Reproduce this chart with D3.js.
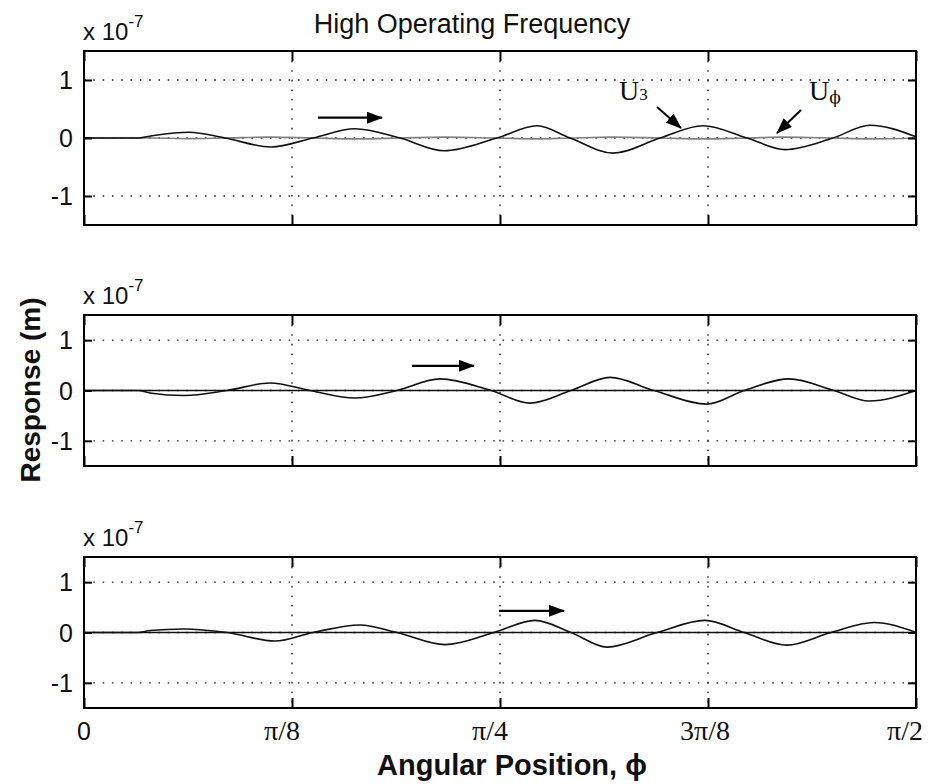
<!DOCTYPE html>
<html>
<head>
<meta charset="utf-8">
<script src="https://cdn.jsdelivr.net/npm/d3@7"></script>
<style>
  html, body { margin: 0; padding: 0; background: #fff; }
  svg { display: block; }
</style>
</head>
<body>
<svg id="chart" width="928" height="784"></svg>
<script>
// ---------------- data ----------------
const xTickVals = [0, Math.PI / 8, Math.PI / 4, 3 * Math.PI / 8, Math.PI / 2];
const xTickLabels = ["0", "π/8", "π/4", "3π/8", "π/2"];
const yTickVals = [-1, 0, 1];
const yTickLabels = ["-1", "0", "1"];

// panel 1 (angular position in rad, response in 1e-7 m)
const phi1 = [0, 0.1001, 0.1284, 0.1982, 0.2662, 0.3530, 0.4323, 0.5116, 0.5966, 0.6797, 0.7797,
  0.8553, 0.9176, 0.9987, 1.0875, 1.1686, 1.2517, 1.3235, 1.4141, 1.4839, 1.5708];
const u3Panel1 = [0, 0, 0.04, 0.10, 0, -0.155, 0, 0.16, 0, -0.22, 0,
  0.21, 0, -0.26, 0, 0.21, 0, -0.20, 0, 0.22, 0.02];
const uphiPanel1 = [0, 0, 0, -0.01, 0, 0.015, 0, -0.015, 0, 0.015, 0,
  -0.015, 0, 0.015, 0, -0.015, 0, 0.015, 0, -0.015, 0];

// panel 2
const phi2 = [0, 0.1019, 0.1246, 0.1888, 0.2700, 0.3512, 0.4267, 0.5116, 0.5909, 0.6721, 0.7684,
  0.8420, 0.9194, 0.9931, 1.0761, 1.1762, 1.2461, 1.3310, 1.4160, 1.4821, 1.5708];
const u3Panel2 = [0, 0, -0.05, -0.10, 0, 0.15, 0, -0.15, 0, 0.23, 0,
  -0.25, 0, 0.26, 0, -0.27, 0, 0.23, 0, -0.21, 0];

// panel 3
const phi3 = [0, 0.1019, 0.1246, 0.1888, 0.2700, 0.3606, 0.4323, 0.5211, 0.5909, 0.6816, 0.7741,
  0.8515, 0.9194, 0.9874, 1.0818, 1.1724, 1.2461, 1.3272, 1.4103, 1.4915, 1.5708];
const u3Panel3 = [0, 0, 0.04, 0.07, 0, -0.17, 0, 0.15, 0, -0.24, 0,
  0.24, 0, -0.29, 0, 0.24, 0, -0.25, 0, 0.20, 0];

// zero (U_phi) line for panels 2 and 3
const phiZero = [0, Math.PI / 2];
const uZero = [0, 0];

// ---------------- layout ----------------
const svg = d3.select("#chart");
const left = 84, right = 916;
const panels = [
  { top: 51, bottom: 225, series: [
      { x: phi1, y: uphiPanel1, color: "#808080", width: 1.6 },
      { x: phi1, y: u3Panel1, color: "#111", width: 1.6 } ],
    arrow: { x0: 0.4418, x1: 0.5626, y: 0.35 } },
  { top: 315, bottom: 466, series: [
      { x: phiZero, y: uZero, color: "#111", width: 1.3 },
      { x: phi2, y: u3Panel2, color: "#111", width: 1.6 } ],
    arrow: { x0: 0.6193, x1: 0.7363, y: 0.49 } },
  { top: 557, bottom: 708, series: [
      { x: phiZero, y: uZero, color: "#111", width: 1.3 },
      { x: phi3, y: u3Panel3, color: "#111", width: 1.6 } ],
    arrow: { x0: 0.7835, x1: 0.9062, y: 0.43 } }
];

const x = d3.scaleLinear().domain([0, Math.PI / 2]).range([left, right]);

const defs = svg.append("defs");
defs.append("marker")
  .attr("id", "head")
  .attr("markerUnits", "userSpaceOnUse")
  .attr("viewBox", "0 0 16 12")
  .attr("refX", 15).attr("refY", 6)
  .attr("markerWidth", 16).attr("markerHeight", 12)
  .attr("orient", "auto")
  .append("path").attr("d", "M0,0 L16,6 L0,12 Z").attr("fill", "#000");

panels.forEach((p, i) => {
  const y = d3.scaleLinear().domain([-1.5, 1.5]).range([p.bottom, p.top]);
  const g = svg.append("g");

  // grid (dotted)
  const gridY = [-1, 0, 1], gridX = xTickVals.slice(1, 4);
  g.selectAll(".gy").data(gridY).enter().append("line")
    .attr("x1", left).attr("x2", right)
    .attr("y1", d => y(d)).attr("y2", d => y(d))
    .attr("stroke", "#222").attr("stroke-width", 1.4)
    .attr("stroke-dasharray", "1.6,7.7");
  g.selectAll(".gx").data(gridX).enter().append("line")
    .attr("x1", d => x(d)).attr("x2", d => x(d))
    .attr("y1", p.top).attr("y2", p.bottom)
    .attr("stroke", "#222").attr("stroke-width", 1.4)
    .attr("stroke-dasharray", "1.6,8");

  // series
  p.series.forEach(s => {
    const pts = s.x.map((v, k) => [v, s.y[k]]);
    g.append("path").datum(pts)
      .attr("fill", "none").attr("stroke", s.color).attr("stroke-width", s.width)
      .attr("d", d3.line().x(d => x(d[0])).y(d => y(d[1])).curve(d3.curveMonotoneX));
  });

  // axes: ticks inside
  const axB = d3.axisBottom(x).tickValues(xTickVals).tickSize(-10).tickFormat("");
  const axT = d3.axisTop(x).tickValues(xTickVals).tickSize(-10).tickFormat("");
  const axL = d3.axisLeft(y).tickValues(yTickVals).tickSize(-8).tickFormat("");
  const axR = d3.axisRight(y).tickValues(yTickVals).tickSize(-8).tickFormat("");
  [[axB, `translate(0,${p.bottom})`], [axT, `translate(0,${p.top})`],
   [axL, `translate(${left},0)`], [axR, `translate(${right},0)`]].forEach(([ax, tr]) => {
    const a = g.append("g").attr("transform", tr).call(ax);
    a.select(".domain").remove();
    a.selectAll(".tick line").attr("stroke", "#000").attr("stroke-width", 2);
  });

  // box
  g.append("rect").attr("x", left).attr("y", p.top)
    .attr("width", right - left).attr("height", p.bottom - p.top)
    .attr("fill", "none").attr("stroke", "#000").attr("stroke-width", 2);

  // y tick labels
  g.selectAll(".yl").data(yTickVals).enter().append("text")
    .attr("x", 73).attr("y", d => y(d) + 9)
    .attr("text-anchor", "end")
    .attr("font-family", "Liberation Sans, Arial, sans-serif")
    .attr("font-size", 25).attr("fill", "#111")
    .text((d, k) => yTickLabels[k]);

  // exponent label
  const ex = g.append("text").attr("x", 83).attr("y", p.top - 11)
    .attr("font-family", "Liberation Sans, Arial, sans-serif")
    .attr("font-size", 24).attr("fill", "#111");
  ex.append("tspan").text("x 10");
  ex.append("tspan").attr("font-size", 17).attr("dy", -13).text("-7");

  // direction arrow
  g.append("line")
    .attr("x1", x(p.arrow.x0)).attr("x2", x(p.arrow.x1))
    .attr("y1", y(p.arrow.y)).attr("y2", y(p.arrow.y))
    .attr("stroke", "#000").attr("stroke-width", 2.2)
    .attr("marker-end", "url(#head)");

  if (i === 0) {
    // U3 and U_phi annotations
    const lab = (px, py, main, sub, subDy, subFont) => {
      const t = g.append("text").attr("x", x(px)).attr("y", y(py))
        .attr("font-family", "Liberation Serif, Times New Roman, serif")
        .attr("font-size", 28).attr("fill", "#111");
      t.append("tspan").text(main);
      t.append("tspan").attr("font-size", 17).attr("dy", subDy)
        .attr("font-family", subFont).attr("fill", "#111").text(sub);
    };
    lab(1.0101, 0.655, "U", "3", 0, "Liberation Serif, serif");
    lab(1.3688, 0.655, "U", "ϕ", 3, "DejaVu Serif, serif");
    g.append("line").attr("x1", x(1.0818)).attr("y1", y(0.534))
      .attr("x2", x(1.1271)).attr("y2", y(0.172))
      .attr("stroke", "#000").attr("stroke-width", 2).attr("marker-end", "url(#head)");
    g.append("line").attr("x1", x(1.3537)).attr("y1", y(0.483))
      .attr("x2", x(1.3084)).attr("y2", y(0.086))
      .attr("stroke", "#000").attr("stroke-width", 2).attr("marker-end", "url(#head)");
  }

  if (i === 2) {
    // x tick labels
    const offs = [0, -10, -10, -3, -11];
    xTickVals.forEach((v, k) => {
      svg.append("text")
        .attr("x", x(v) + offs[k]).attr("y", 740)
        .attr("text-anchor", "middle")
        .attr("font-family", k === 0 ? "Liberation Sans, Arial, sans-serif" : "Liberation Serif, Times New Roman, serif")
        .attr("font-size", k === 0 ? 25 : 28).attr("fill", "#111")
        .text(xTickLabels[k]);
    });
  }
});

// title and axis labels
svg.append("text").attr("x", 472).attr("y", 33).attr("text-anchor", "middle")
  .attr("font-family", "Liberation Sans, Arial, sans-serif").attr("font-size", 27)
  .attr("fill", "#111").text("High Operating Frequency");

svg.append("text").attr("x", 512).attr("y", 775).attr("text-anchor", "middle")
  .attr("font-family", "Liberation Sans, Arial, sans-serif").attr("font-size", 29)
  .attr("font-weight", "bold").attr("fill", "#111").text("Angular Position, ϕ");

svg.append("text").attr("transform", "translate(40,390) rotate(-90)")
  .attr("text-anchor", "middle")
  .attr("font-family", "Liberation Sans, Arial, sans-serif").attr("font-size", 28)
  .attr("font-weight", "bold").attr("fill", "#111").text("Response (m)");
</script>
</body>
</html>
